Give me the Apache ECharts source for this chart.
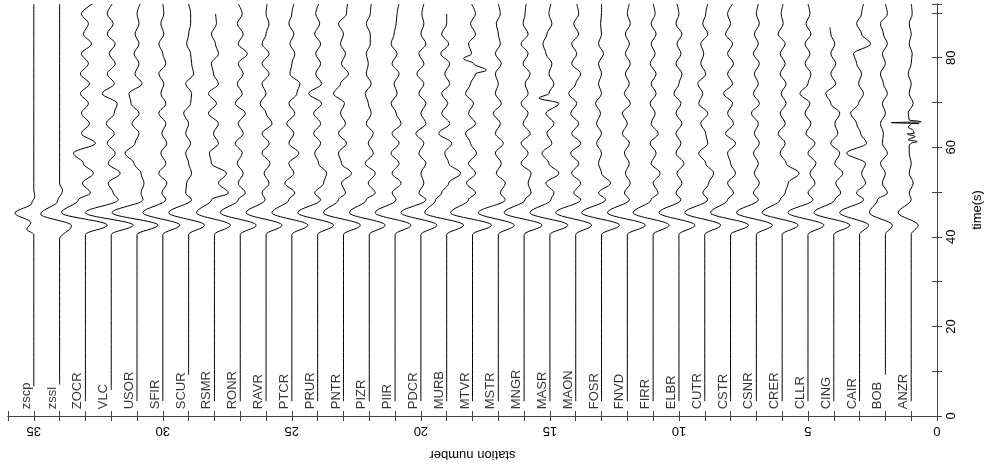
<!DOCTYPE html>
<html>
<head>
<meta charset="utf-8">
<title>record section</title>
<script src="https://cdn.jsdelivr.net/npm/echarts@6/dist/echarts.min.js"></script>
<style>
html,body{margin:0;padding:0;background:#fff;}
#main{width:992px;height:466px;}
</style>
</head>
<body>
<div id="main"></div>
<script>
// stations, left to right (station number 35 -> 1)
var stationNames = ['zscp','zssl','ZOCR','VLC','USOR','SFIR','SCUR','RSMR','RONR','RAVR','PTCR','PRUR','PNTR','PIZR','PIIR','PDCR','MURB','MTVR','MSTR','MNGR','MASR','MAON','FOSR','FNVD','FIRR','ELBR','CUTR','CSTR','CSNR','CRER','CLLR','CING','CAIR','BOB','ANZR'];
var stationNums = [35,34,33,32,31,30,29,28,27,26,25,24,23,22,21,20,19,18,17,16,15,14,13,12,11,10,9,8,7,6,5,4,3,2,1];
// first sample of each trace (s)
var startTimes = [6.6,7,3.3,5.8,3.3,3.3,9.2,3.3,3.3,3.3,3.3,3.3,3.3,3.3,3.3,3.3,3.3,3.3,3.3,3.3,3.3,3.3,3.3,3.3,3.3,3.3,3.3,3.3,3.3,3.3,3.3,3.3,3.3,9.2,3.3];

// main arrival: onset, swing right, swing left (s)
var pulseTimes = [40.5, 42.6, 45.4];
var pulsePeak   = [0,0,22,22,21,17,16,16,16,16,16,16,17,16,16,16,17,19,16,18,18,16,18,18,16,16,16,18,16,16,16,16,9,7,7];
var pulseTrough = [0,0,-24,-26,-25,-20,-20,-18,-20,-20,-20,-20,-20,-20,-20,-20,-22,-22,-20,-20,-20,-20,-20,-20,-20,-20,-20,-20,-20,-20,-20,-20,-20,-16,-13];

// synthetics (time, offset)
var zscpWave = [[40.5,0],[41.7,-7],[43.2,-3],[45.3,-19],[47.5,-2],[49,1],[50.5,0],[92,0]];
var zsslWave = [[39.5,0],[42.5,12],[45.1,-19],[48,-2],[50.3,3],[52,0],[92,0]];

// coda (offset, + = right)
var codaTimes = [48.3,49.8,52,54.2,56.4,58.7,60.9,63.1,65.3,67.6,69.8,72,74.2,76.4,78.7,80.9,83.1,85.3,87.6,89.8,92];
var codaOffsets = [
  null,
  null,
  [-7,5,-3,8,-2,-12,10,-4,4,-4,3,-5,4,-5,3,-4,6,-2,3,-4,7],
  [7,2,-3,9,-3,4,-4,3,-5,3,6,-9,3,-4,4,-2,4,-4,2,-4,1],
  [6,4,7,4,-3,-12,-2,2,-5,2,-6,-8,5,-2,2,-3,2,-2,2,0,3],
  [3,-1,4,-4,3,-2,4,-1,3,-4,3,-2,1,-4,3,0,-4,1,-2,1,0],
  [3,-3,-2,3,0,-3,2,-3,0,-5,2,3,-3,5,3,2,-2,0,2,2,0],
  [-3,14,4,12,-3,-5,4,-1,4,-6,2,-6,4,-1,-3,4,1,-3,2,1],
  [-2,5,-2,3,-3,2,-5,3,-2,5,-5,2,-3,3,-2,7,-2,3,-3,2,-2],
  [-1,-4,3,-2,4,-4,3,-4,6,0,-6,0,-4,3,-4,3,-4,0,3,0,1],
  [-3,3,-7,2,-3,7,-3,2,-5,3,-3,5,8,-2,0,3,-2,2,-3,0,2],
  [3,-3,6,9,1,-3,3,-4,3,-4,4,-9,4,-2,3,-2,3,-3,2,-2,1],
  [-5,2,-2,8,-2,-5,3,-5,2,-3,1,-10,-3,5,-2,2,-3,0,-5,3,4],
  [-3,6,-1,6,-4,4,-1,4,-3,2,-1,-4,2,-3,-1,-3,1,1,-3,1,2],
  [1,-3,6,-3,4,-4,4,-3,6,1,-4,2,-1,4,-3,2,-4,-1,1,2,4],
  [5,-2,3,0,5,-2,3,-5,5,0,5,-2,3,-4,3,-2,5,0,3,1,3],
  [-11,-5,2,14,2,-2,5,-8,3,-5,1,-5,3,-2,3,-6,2,-5,0,0],
  [-4,3,-6,3,-4,4,-2,-7,3,-4,1,-7,-2,3,1,-1,-4,3,-2,3,-1],
  [7,2,7,-2,3,-3,5,-3,2,-5,3,-3,0,-3,3,-3,2,0,-2,2,0],
  [1,7,4,7,-3,4,-3,6,-1,4,-3,4,1,6,-1,4,-3,4,-1,1,2],
  [1,4,-4,9,-1,-8,2,-3,4,-4,9,-1,4,-1,2,-4,-7,-3,2,-1,1],
  [5,-2,5,-4,3,-5,5,-4,3,-5,1,-7,0,5,-4,1,-4,3,-2,3,1],
  [4,-3,9,0,-3,0,-5,0,-5,-1,-6,0,-3,0,-3,2,-3,0,-1,0,0],
  [2,-3,3,-2,2,-3,2,-5,0,-5,3,-3,2,-2,3,-2,2,-2,3,0,2],
  [-2,5,0,7,-2,3,-3,5,-2,2,-3,3,-2,3,-3,2,-2,3,-2,2,0],
  [2,-3,3,-2,5,-3,2,-3,3,-3,2,-5,0,3,-3,2,-2,3,-3,0,-2],
  [3,-2,4,9,1,-6,3,1,-4,3,-6,-2,-7,1,-4,-1,-4,3,-2,1,3],
  [-3,3,-3,5,0,-3,5,-5,3,-3,2,-7,2,-3,3,-3,2,-5,0,-3,2],
  [2,-3,3,-2,2,-3,3,-2,2,-5,3,-3,2,-2,3,-3,2,-2,3,0,2],
  [-2,3,6,17,4,-2,3,-4,3,-2,4,-1,4,-2,3,-2,3,-4,1,-1,1],
  [5,0,7,2,8,0,7,-2,3,-3,2,-8,0,3,-3,2,-3,3,-2,2,0],
  [1,7,2,9,1,6,-3,4,1,6,-3,-8,2,-3,2,-3,1,-3],
  [4,-3,6,2,6,-13,7,1,-3,-9,-1,4,-1,2,-3,-6,11,2,-3,2,4],
  [-8,2,-3,0,-5,2,-3,-2,-5,0,-3,2,-2,-5,0,-3,2,-2,-5,2,0],
  [0,-2,2,-2,0,-2,0,3,0,-3,2,-2,0,-3,0,1,-2,0,-2,1,0]
];
// extra samples on sharp features
var mtvrExtra = [[77.2,14],[79.8,-9]];
var masrExtra = [[71,-11]];
var cingEnd = [[86.8,-4]];
var anzrBurst = [[60.5,-2],[61.3,6],[61.7,-3],[62.4,4],[63,-4],[63.8,2],[64.5,-3],[65.3,8],[65.5,-20],[65.7,10],[66.1,-2]];

var ampScale = 1 / 25.86;   // px of wiggle -> station units

var chart = echarts.init(document.getElementById('main'), null, {renderer: 'canvas'});

var series = [];
stationNames.forEach(function(name, i){
    var n = stationNums[i];
    var pts = [[startTimes[i], 0]];
    if (name == 'zscp') {
        pts = pts.concat(zscpWave);
    } else if (name == 'zssl') {
        pts = pts.concat(zsslWave);
    } else {
        pts.push([pulseTimes[0], 0], [pulseTimes[1], pulsePeak[i]], [pulseTimes[2], pulseTrough[i]]);
        codaOffsets[i].forEach(function(v, k){ pts.push([codaTimes[k], v]); });
        if (name == 'MTVR') pts = pts.concat(mtvrExtra);
        if (name == 'MASR') pts = pts.concat(masrExtra);
        if (name == 'CING') pts = pts.concat(cingEnd);
        if (name == 'ANZR') pts = pts.concat(anzrBurst);
        pts.sort(function(a, b){ return a[0] - b[0]; });
    }
    series.push({
        type: 'line',
        data: pts.map(function(p){ return [n - p[1] * ampScale, p[0]]; }),
        symbol: 'none',
        smooth: 0.35,
        smoothMonotone: 'y',
        lineStyle: {color: '#000', width: 1},
        silent: true
    });
});

// station names
series.push({
    type: 'scatter',
    symbolSize: 0,
    silent: true,
    data: stationNames.map(function(name, i){ return {name: name, value: [stationNums[i] + 0.04, 1.5]}; }),
    label: {
        show: true,
        formatter: '{b}',
        position: [0, 0],
        align: 'left',
        verticalAlign: 'bottom',
        rotate: 90,
        color: '#000',
        fontFamily: 'Liberation Sans',
        fontSize: 13
    }
});

var axisLineStyle = {color: '#444', width: 1};
var option = {
    animation: false,
    backgroundColor: '#fff',
    grid: {left: 8, right: 53, top: 4, bottom: 48},
    xAxis: [{
        type: 'value', min: 0, max: 36, interval: 1, inverse: true, position: 'bottom',
        axisLine: {show: true, lineStyle: axisLineStyle},
        axisTick: {show: true, inside: true, length: 5, lineStyle: axisLineStyle},
        axisLabel: {
            rotate: 180, margin: 8, color: '#000', fontFamily: 'Liberation Sans', fontSize: 13,
            formatter: function(v){ return v % 5 == 0 ? String(v) : ''; }
        },
        splitLine: {show: false},
        name: 'station number', nameLocation: 'middle', nameGap: 32, nameRotate: 180,
        nameTextStyle: {color: '#000', fontFamily: 'Liberation Sans', fontSize: 13}
    }, {
        type: 'value', min: 0, max: 36, interval: 1, inverse: true, position: 'top',
        axisLine: {show: true, lineStyle: axisLineStyle},
        axisTick: {show: true, inside: true, length: 5, lineStyle: axisLineStyle},
        axisLabel: {show: false},
        splitLine: {show: false}
    }],
    yAxis: [{
        type: 'value', min: 0, max: 92, interval: 10, position: 'right',
        axisLine: {show: true, lineStyle: axisLineStyle},
        axisTick: {show: true, inside: true, length: 5, lineStyle: axisLineStyle},
        axisLabel: {
            rotate: 90, margin: 8, color: '#000', fontFamily: 'Liberation Sans', fontSize: 13,
            formatter: function(v){ return v % 20 == 0 ? String(v) : ''; }
        },
        splitLine: {show: false},
        name: 'time(s)', nameLocation: 'middle', nameGap: 34, nameRotate: 90,
        nameTextStyle: {color: '#000', fontFamily: 'Liberation Sans', fontSize: 13}
    }, {
        type: 'value', min: 0, max: 92, interval: 10, position: 'left',
        axisLine: {show: true, lineStyle: axisLineStyle},
        axisTick: {show: true, inside: true, length: 5, lineStyle: axisLineStyle},
        axisLabel: {show: false},
        splitLine: {show: false}
    }],
    series: series
};
chart.setOption(option);
</script>
</body>
</html>
